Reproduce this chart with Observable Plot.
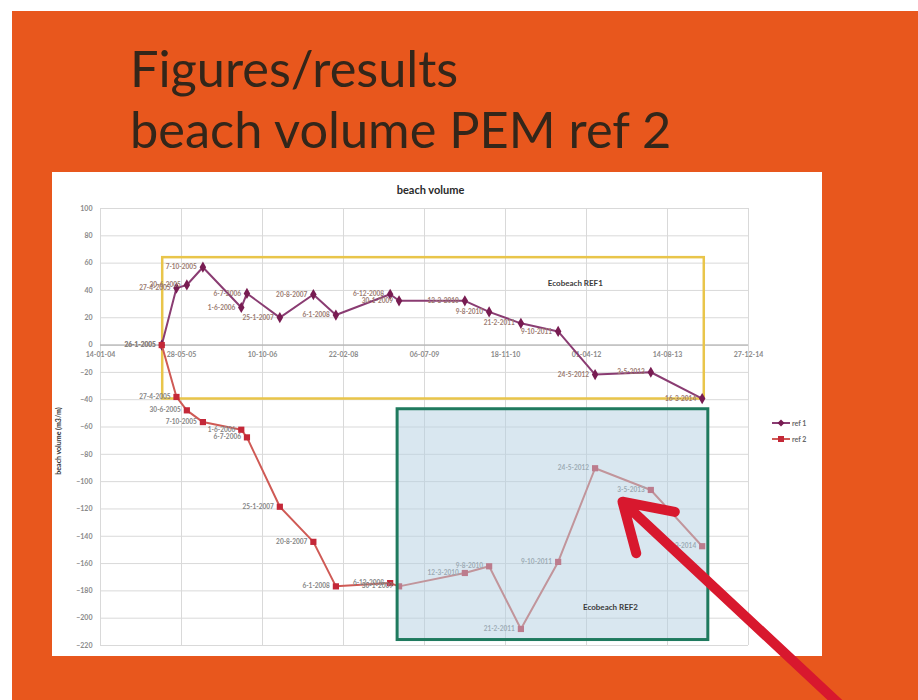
<!DOCTYPE html>
<html><head><meta charset="utf-8">
<script src="https://cdn.jsdelivr.net/npm/d3@7"></script>
<script src="https://cdn.jsdelivr.net/npm/@observablehq/plot@0.6"></script>
<style>
body{margin:0;background:#fff;width:918px;height:700px;overflow:hidden;position:relative;font-family:Lato,sans-serif}
#slide{position:absolute;left:12px;top:11px;width:906px;height:689px;background:#e8571d}
.t{position:absolute;left:130px;color:#33261a;font-family:Lato,sans-serif;font-size:50.5px;line-height:normal;white-space:nowrap}
#chart{position:absolute;left:52px;top:172px}
#legend{position:absolute;left:772px;top:415px;font:bold 7px Lato,sans-serif;color:#666}
#legend div{display:flex;align-items:center;height:16px}
#legend svg{margin-right:2px}
</style></head><body>
<div id="slide"></div>
<div class="t" style="top:37px">Figures/results</div>
<div class="t" style="top:98px">beach volume PEM ref 2</div>
<div id="chart"></div>
<div id="legend"></div>
<script>
// survey dates (shared by both series)
const dates = ["2005-01-26","2005-04-27","2005-06-30","2005-10-07","2006-06-01","2006-07-06","2007-01-25","2007-08-20","2008-01-06","2008-12-06","2009-01-30","2010-03-12","2010-08-09","2011-02-21","2011-10-09","2012-05-24","2013-05-03","2014-03-16"];
// beach volume (m3/m)
const ref1 = [0, 41.7, 44, 57, 27.5, 37.8, 20.1, 37, 22, 37.2, 32.4, 32.4, 24.3, 15.9, 10, -21.6, -19.9, -39.2];
const ref2 = [0, -38, -47.8, -56.4, -62, -67.6, -118.4, -144.1, -176.7, -174.3, -176.7, -166.9, -162, -207.9, -158.8, -90.2, -106.1, -147.3];
const seriesNames = ["ref 1", "ref 2"];
// axis ticks
const xTicks = ["2004-01-14","2005-05-28","2006-10-10","2008-02-22","2009-07-06","2010-11-18","2012-04-01","2013-08-14","2014-12-27"];
const yTicks = [100, 80, 60, 40, 20, 0, -20, -40, -60, -80, -100, -120, -140, -160, -180, -200, -220];
// annotation boxes & arrow
const box1X = ["2005-02-01","2014-03-29"], box1Y = [64, -39.5], box1Label = "Ecobeach REF1", box1LabelAt = ["2012-01-23", 45];
const box2X = ["2009-01-21","2014-04-23"], box2Y = [-47, -216], box2Label = "Ecobeach REF2", box2LabelAt = ["2012-08-27", -192];
const arrowFrom = ["2016-09-17", -270.6], arrowTo = ["2012-11-09", -114.7];
const chartTitle = "beach volume", yTitle = "beach volume (m3/m)";

const parse = d3.utcParse("%Y-%m-%d");
const rows1 = dates.map((d, i) => ({date: parse(d), v: ref1[i]}));
const rows2 = dates.map((d, i) => ({date: parse(d), v: ref2[i]}));
const xTickDates = xTicks.map(parse);
const fmtTick = d3.utcFormat("%d-%m-%y");
const fmtLbl = d => `${d.getUTCDate()}-${d.getUTCMonth() + 1}-${d.getUTCFullYear()}`;
const C1 = "#8a3c72", C1d = "#781c52", C2 = "#cf5a55", C2d = "#c42838";

const chart = Plot.plot({
  width: 770, height: 484,
  marginLeft: 48, marginRight: 74, marginTop: 36, marginBottom: 11,
  style: {background: "#fff", overflow: "visible", fontFamily: "Lato, sans-serif"},
  x: {type: "utc", domain: [xTickDates[0], xTickDates[xTickDates.length - 1]], axis: null},
  y: {domain: [-220, 100]},
  marks: [
    Plot.gridY(yTicks, {stroke: "#d9d9d9", strokeOpacity: 1}),
    Plot.gridX(xTickDates, {stroke: "#d9d9d9", strokeOpacity: 1}),
    Plot.axisY(yTicks, {tickSize: 0, tickPadding: 8, fontSize: 7, fill: "#8a8a8a", fontWeight: "bold", label: null}),
    Plot.ruleY([0], {stroke: "#a8a8a8"}),
    Plot.text(xTickDates, {x: d => d, y: 0, text: d => fmtTick(d), dy: 10, fontSize: 7, fontWeight: "bold", fill: "#8a8a8a"}),
    Plot.text([yTitle], {frameAnchor: "left", rotate: -90, dx: -42, dy: 14, textAnchor: "middle", fontSize: 7, fontWeight: "bold", fill: "#333"}),
    Plot.text([chartTitle], {frameAnchor: "top", lineAnchor: "middle", dy: -18, dx: 6, fontSize: 11, fontWeight: "bold", fill: "#2a2a2a"}),
    Plot.rect([0], {x1: () => parse(box1X[0]), x2: () => parse(box1X[1]), y1: () => box1Y[0], y2: () => box1Y[1], fill: "none", stroke: "#e9c54a", strokeWidth: 2.5}),
    Plot.text([box1Label], {x: () => parse(box1LabelAt[0]), y: () => box1LabelAt[1], fontSize: 8, fontWeight: "bold", fill: "#3a3a3a"}),
    Plot.line(rows1, {x: "date", y: "v", stroke: C1, strokeWidth: 2}),
    Plot.dot(rows1, {x: "date", y: "v", symbol: "diamond", r: 3.4, fill: C1d}),
    Plot.text(rows1, {x: "date", y: "v", text: d => fmtLbl(d.date), textAnchor: "end", dx: -6, fontSize: 6.5, fontWeight: "bold", fill: "#9a7a70"}),
    Plot.line(rows2, {x: "date", y: "v", stroke: C2, strokeWidth: 2}),
    Plot.dot(rows2, {x: "date", y: "v", symbol: "square", r: 3.5, fill: C2d}),
    Plot.text(rows2, {x: "date", y: "v", text: d => fmtLbl(d.date), textAnchor: "end", dx: -6, fontSize: 6.5, fontWeight: "bold", fill: "#858585"}),
    Plot.rect([0], {x1: () => parse(box2X[0]), x2: () => parse(box2X[1]), y1: () => box2Y[0], y2: () => box2Y[1], fill: "#b3d0e2", fillOpacity: 0.5, stroke: "#1f7a5e", strokeWidth: 3}),
    Plot.text([box2Label], {x: () => parse(box2LabelAt[0]), y: () => box2LabelAt[1], fontSize: 8, fontWeight: "bold", fill: "#3a3a3a"}),
    Plot.arrow([0], {x1: () => parse(arrowFrom[0]), y1: () => arrowFrom[1], x2: () => parse(arrowTo[0]), y2: () => arrowTo[1], stroke: "#d8182e", strokeWidth: 10, headLength: 8, headAngle: 64})
  ]
});
document.getElementById("chart").append(chart);

// legend
const leg = document.getElementById("legend");
[[seriesNames[0], C1, C1d, "diamond"], [seriesNames[1], C2, C2d, "square"]].forEach(([name, c, cd, sym]) => {
  const row = document.createElement("div");
  const shape = sym === "diamond"
    ? `<path d="M9,0.5 L12.5,4 L9,7.5 L5.5,4Z" fill="${cd}"/>`
    : `<rect x="6" y="1" width="6" height="6" fill="${cd}"/>`;
  row.innerHTML = `<svg width="18" height="8"><line x1="0" x2="18" y1="4" y2="4" stroke="${c}" stroke-width="2"/>${shape}</svg><span>${name}</span>`;
  leg.append(row);
});
</script>
</body></html>
